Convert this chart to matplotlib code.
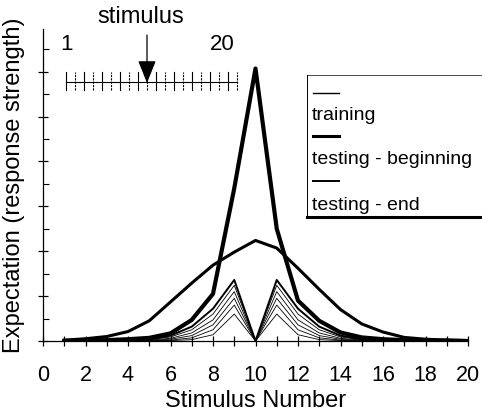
import matplotlib
matplotlib.use("Agg")
import matplotlib.pyplot as plt
from matplotlib.lines import Line2D

plt.rcParams['font.family'] = ['Liberation Sans', 'DejaVu Sans']

# ---------------------------------------------
# data
# ---------------------------------------------
stimulus = list(range(1, 21))

# training trials: V-shaped curves, zero at the trained stimulus (10)
training_1 = [0, 0, 0, 0.01, 0.04, 0.12, 0.32, 0.72, 1.36, 0, 1.36, 0.72, 0.32, 0.12, 0.04, 0.01, 0, 0, 0, 0]
training_2 = [0, 0, 0, 0, 0.03, 0.09, 0.25, 0.60, 1.24, 0, 1.24, 0.60, 0.25, 0.09, 0.03, 0, 0, 0, 0, 0]
training_3 = [0, 0, 0, 0, 0.02, 0.06, 0.18, 0.47, 1.10, 0, 1.10, 0.47, 0.18, 0.06, 0.02, 0, 0, 0, 0, 0]
training_4 = [0, 0, 0, 0, 0.01, 0.04, 0.12, 0.36, 0.95, 0, 0.95, 0.36, 0.12, 0.04, 0.01, 0, 0, 0, 0, 0]
training_5 = [0, 0, 0, 0, 0, 0.02, 0.07, 0.25, 0.80, 0, 0.80, 0.25, 0.07, 0.02, 0, 0, 0, 0, 0, 0]
training_6 = [0, 0, 0, 0, 0, 0.01, 0.03, 0.14, 0.60, 0, 0.60, 0.14, 0.03, 0.01, 0, 0, 0, 0, 0, 0]
training_curves = [training_1, training_2, training_3, training_4, training_5, training_6]

testing_beginning = [0.0, 0.01, 0.02, 0.04, 0.07, 0.17, 0.47, 1.05, 3.4, 6.07,
                     2.5, 0.9, 0.45, 0.19, 0.08, 0.04, 0.02, 0.01, 0.01, 0.0]
testing_end = [0.02, 0.05, 0.10, 0.21, 0.45, 0.87, 1.29, 1.69, 1.98, 2.24,
               2.07, 1.62, 1.15, 0.70, 0.38, 0.20, 0.08, 0.04, 0.02, 0.01]

legend_labels = ["training", "testing - beginning", "testing - end"]
x_ticks = list(range(0, 21, 2))
inset_stimulus = 10

# ---------------------------------------------
# figure
# ---------------------------------------------
W, H = 482, 419
fig = plt.figure(figsize=(W / 100, H / 100), dpi=100)


def fx(px):
    return px / W


def fy(py):
    return 1 - py / H


ax = fig.add_axes([fx(43), fy(341), fx(468) - fx(43), fy(29) - fy(341)])

for i, curve in enumerate(training_curves):
    lw = 1.4 if i == 0 else 0.6
    ax.plot(stimulus, curve, color="black", lw=lw)
ax.plot(stimulus, testing_end, color="black", lw=2.2)
ax.plot(stimulus, testing_beginning, color="black", lw=3.0)

ax.set_xlim(0, 20)
ax.set_ylim(0, 6.95)
ax.spines["top"].set_visible(False)
ax.spines["right"].set_visible(False)
ax.spines["left"].set_linewidth(0.9)
ax.spines["bottom"].set_linewidth(0.9)
ax.set_xticks(x_ticks)
ax.set_xticks(range(0, 21), minor=True)
ax.set_yticks(range(0, 7))
ax.set_yticks([0.5 + k for k in range(7)], minor=True)
ax.set_yticklabels([])
ax.tick_params(axis="x", which="both", direction="inout", length=7, width=0.9,
               labelsize=15.5, pad=14)
ax.tick_params(axis="y", which="major", direction="inout", length=7, width=0.9)
ax.tick_params(axis="y", which="minor", direction="in", length=4, width=0.8)
ax.set_xlabel("Stimulus Number", fontsize=17, labelpad=3)
ax.set_ylabel("Expectation (response strength)", fontsize=17, labelpad=6)

# ---------------------------------------------
# inset: stimulus dimension with arrow
# ---------------------------------------------
ins = fig.add_axes([fx(61.5), fy(92), fx(241.5) - fx(61.5), fy(30) - fy(92)])
ins.set_xlim(0.5, 20.5)
ins.set_ylim(0, 62)
ins.axis("off")
ins.plot([stimulus[0], stimulus[-1]], [10, 10], color="black", lw=0.8)
for s in stimulus:
    ls = "-" if s % 2 else (0, (2, 1))
    ins.plot([s, s], [2, 20], color="black", lw=0.8, ls=ls)
ins.annotate("", xy=(inset_stimulus, 9), xytext=(inset_stimulus, 57),
             arrowprops=dict(arrowstyle="-|>,head_length=0.7,head_width=0.28",
                             color="black", lw=0.9, mutation_scale=20,
                             shrinkA=0, shrinkB=0))
ins.text(stimulus[0], 47, "1", fontsize=16, ha="center", va="center")
ins.text(stimulus[-1] - 0.3, 47, "20", fontsize=16, ha="right", va="center")
fig.text(fx(141), fy(17), "stimulus", fontsize=17, ha="center", va="center")

# ---------------------------------------------
# legend (sample line above each label, as in the original)
# ---------------------------------------------
fig.add_artist(Line2D([fx(307), fx(307)], [fy(75), fy(217)], color="black", lw=0.7))
fig.add_artist(Line2D([fx(307), fx(482)], [fy(75), fy(75)], color="black", lw=0.5))
fig.add_artist(Line2D([fx(307), fx(482)], [fy(217), fy(217)], color="black", lw=2.2))
sample_lw = [1.0, 2.2, 1.4]
sample_y = [93, 136, 181]
text_y = [116, 160, 205]
for label, lw, sy, ty in zip(legend_labels, sample_lw, sample_y, text_y):
    fig.add_artist(Line2D([fx(313), fx(339)], [fy(sy), fy(sy)], color="black", lw=lw))
    fig.text(fx(312), fy(ty), label, fontsize=14, ha="left", va="center")

fig.savefig("out.png", dpi=100)
